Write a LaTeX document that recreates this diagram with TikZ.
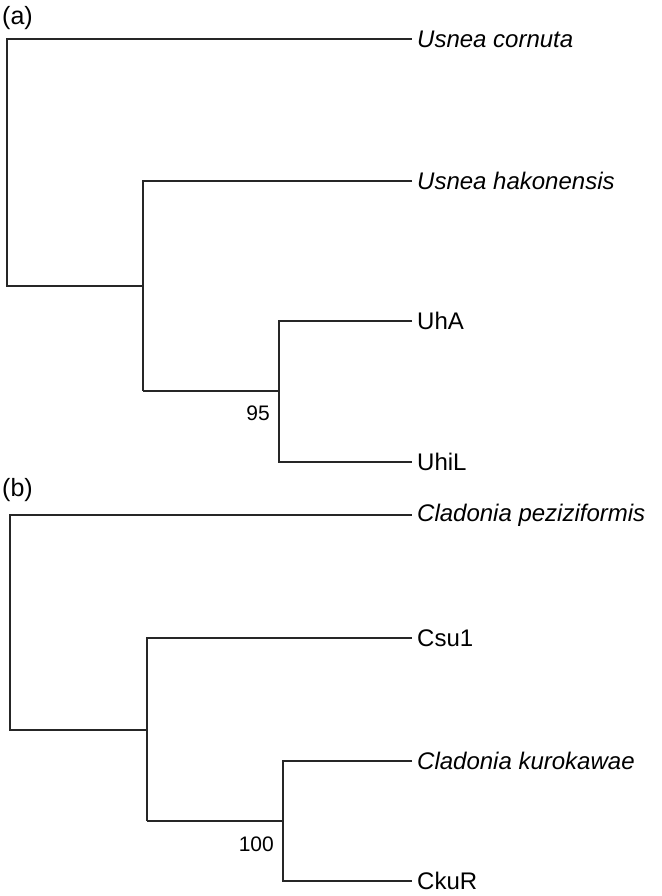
\documentclass[tikz,border=0pt]{standalone}
\usepackage{fontspec}
\setmainfont{Liberation Sans}
\begin{document}
\begin{tikzpicture}[x=1pt,y=-1pt,
  br/.style={line width=1.3pt,draw=black!85},
  tip/.style={anchor=west,inner sep=0pt,font=\fontsize{24}{27}\selectfont},
  sup/.style={anchor=east,inner sep=0pt,font=\fontsize{21}{24}\selectfont},
  pan/.style={anchor=west,inner sep=0pt,font=\fontsize{25}{28}\selectfont}]
\useasboundingbox (0,0) rectangle (661,896);
% (a)
\node[pan] (pa) at (2,18) {(a)};
\coordinate (a1) at (412,39);
\coordinate (a2) at (412,181);
\coordinate (a3) at (412,321);
\coordinate (a4) at (412,462);
\node[tip] (ta1) at (417,39) {\itshape Usnea cornuta};
\node[tip] (ta2) at (417,181) {\itshape Usnea hakonensis};
\node[tip] (ta3) at (417,321) {UhA};
\node[tip] (ta4) at (417,462) {UhiL};
\draw[br] (a3) -| (279,391) |- (a4);
\draw[br] (279,391) -- (143,391);
\draw[br] (a2) -| (143,391);
\draw[br] (143,286) -- (7,286) |- (a1);
\node[sup] (sa) at (270,413) {95};
% (b)
\node[pan] (pb) at (2,490) {(b)};
\coordinate (b1) at (412,515);
\coordinate (b2) at (412,638);
\coordinate (b3) at (412,761);
\coordinate (b4) at (412,881);
\node[tip] (tb1) at (417,515) {\itshape Cladonia peziziformis};
\node[tip] (tb2) at (417,638) {Csu1};
\node[tip] (tb3) at (417,761) {\itshape Cladonia kurokawae};
\node[tip] (tb4) at (417,881) {CkuR};
\draw[br] (b3) -| (283,821) |- (b4);
\draw[br] (283,821) -- (147,821);
\draw[br] (b2) -| (147,821);
\draw[br] (147,730) -- (10,730) |- (b1);
\node[sup] (sb) at (274,844) {100};
\end{tikzpicture}
\end{document}
